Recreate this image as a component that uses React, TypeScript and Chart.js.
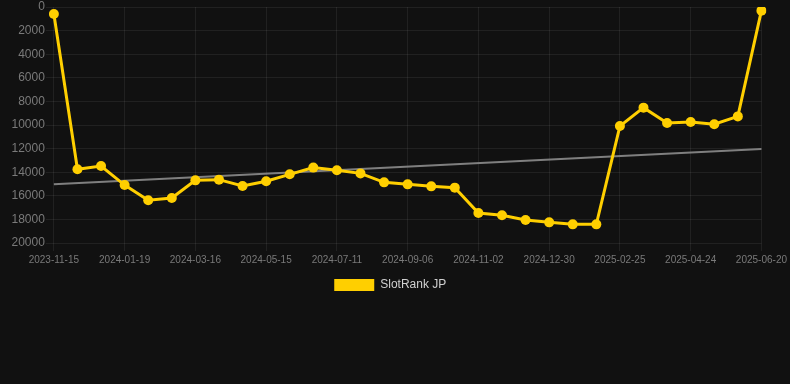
import React, { useEffect, useRef } from "react";
import { Chart, registerables } from "chart.js";

Chart.register(...registerables);

const labels: string[] = [
  "2023-11-15", "2023-12-07", "2023-12-29", "2024-01-19", "2024-02-07", "2024-02-26",
  "2024-03-16", "2024-04-05", "2024-04-25", "2024-05-15", "2024-06-03", "2024-06-22",
  "2024-07-11", "2024-07-30", "2024-08-18", "2024-09-06", "2024-09-25", "2024-10-14",
  "2024-11-02", "2024-11-21", "2024-12-10", "2024-12-30", "2025-01-18", "2025-02-06",
  "2025-02-25", "2025-03-16", "2025-04-04", "2025-04-24", "2025-05-13", "2025-06-01",
  "2025-06-20",
];

const rankValues: number[] = [
  600, 13750, 13480, 15090, 16380, 16190,
  14690, 14630, 15170, 14770, 14180, 13610,
  13840, 14100, 14860, 15030, 15200, 15310,
  17460, 17650, 18050, 18250, 18420, 18420,
  10090, 8530, 9830, 9750, 9940, 9270,
  310,
];

const trendStart = 15030;
const trendEnd = 12030;

const seriesName = "SlotRank JP";
const yTicks = { min: 0, max: 20000, step: 2000 };

export default function App() {
  const ref = useRef<HTMLCanvasElement | null>(null);

  useEffect(() => {
    document.body.style.margin = "0";
    document.body.style.background = "#111111";
    const canvas = ref.current;
    if (!canvas) return;
    Chart.defaults.font.family = "Arial, 'Liberation Sans', sans-serif";
    const yellow = "rgb(255, 207, 0)";
    const grid = "rgba(255,255,255,0.07)";
    const legendShift = {
      id: "legendShift",
      afterLayout(chart: any) {
        if (chart.legend) {
          chart.legend.left -= 10;
          chart.legend.right -= 10;
        }
      },
    };
    const chart = new Chart(canvas, {
      type: "line",
      data: {
        labels,
        datasets: [
          {
            label: seriesName,
            data: rankValues,
            borderColor: yellow,
            backgroundColor: yellow,
            borderWidth: 3,
            pointRadius: 5,
            pointBackgroundColor: yellow,
            pointBorderColor: yellow,
            pointBorderWidth: 0,
            tension: 0,
            order: 1,
          },
          {
            label: "trend",
            data: [
              { x: labels[0], y: trendStart },
              { x: labels[labels.length - 1], y: trendEnd },
            ] as any,
            borderColor: "rgba(140,140,140,0.9)",
            backgroundColor: "rgba(140,140,140,0.9)",
            borderWidth: 2,
            pointRadius: 0,
            tension: 0,
            order: 2,
          },
        ],
      },
      options: {
        animation: false,
        responsive: false,
        maintainAspectRatio: false,
        layout: { padding: { left: 10.5 } },
        plugins: {
          tooltip: { enabled: false },
          legend: {
            position: "bottom",
            labels: {
              color: "#d0d0d0",
              boxWidth: 40,
              boxHeight: 12,
              font: { size: 12 },
              filter: (item) => item.text !== "trend",
              generateLabels: (c: any) =>
                Chart.defaults.plugins.legend.labels
                  .generateLabels(c)
                  .map((it: any) => ({ ...it, lineWidth: 0 })),
            },
          },
        },
        scales: {
          x: {
            type: "category",
            offset: false,
            grid: {
              color: (ctx: any) => (ctx.index % 3 === 0 ? grid : "rgba(0,0,0,0)"),
              tickLength: 8,
            },
            border: { display: false },
            ticks: {
              autoSkip: false,
              maxRotation: 0,
              minRotation: 0,
              color: "#7a7a7a",
              font: { size: 10 },
              callback: (_v: any, i: number) => (i % 3 === 0 ? labels[i] : ""),
            },
          },
          y: {
            reverse: true,
            min: yTicks.min,
            max: yTicks.max,
            grid: { color: grid, tickLength: 8 },
            border: { display: false },
            ticks: {
              stepSize: yTicks.step,
              padding: 1,
              color: "#7a7a7a",
              font: { size: 12, lineHeight: 1 },
              callback: (v: any) => String(v),
            },
          },
        },
      },
      plugins: [legendShift],
    });
    return () => chart.destroy();
  }, []);

  return (
    <div style={{ width: 790, height: 384, background: "#111111" }}>
      <canvas ref={ref} width={790} height={301} style={{ display: "block" }} />
    </div>
  );
}
